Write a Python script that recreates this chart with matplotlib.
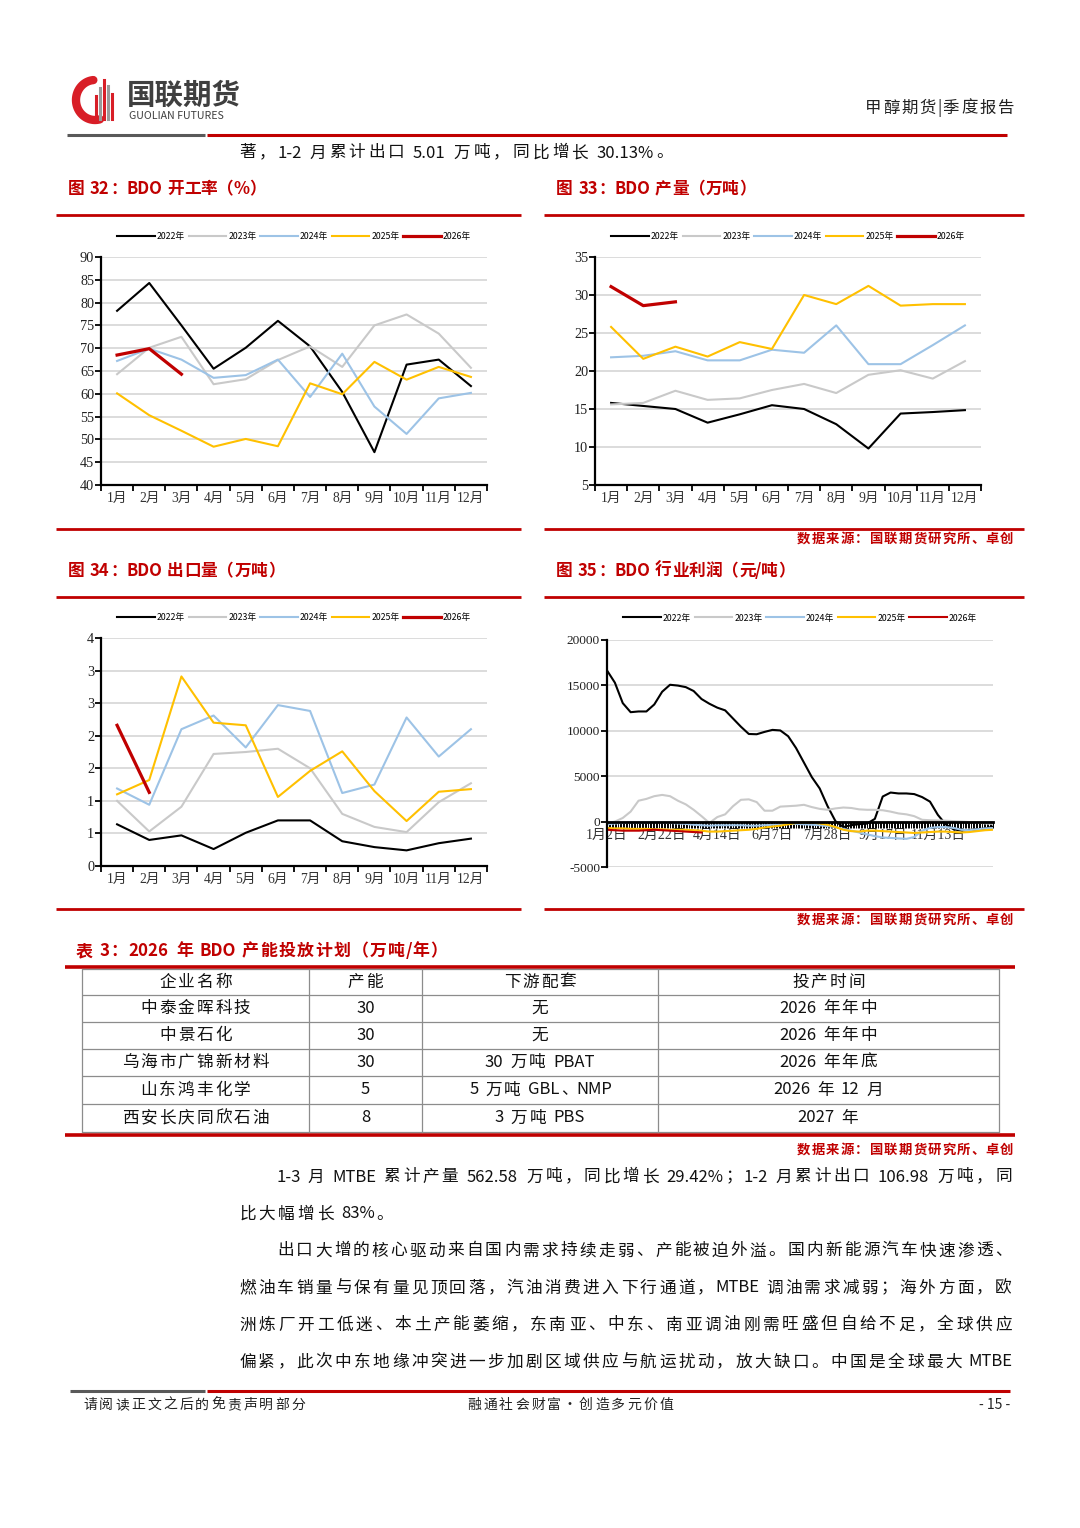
import matplotlib.pyplot as plt
import numpy as np

plt.rcParams['font.family'] = ['Noto Sans CJK SC', 'DejaVu Sans']

# ---- data ----
months = ['1月', '2月', '3月', '4月', '5月', '6月', '7月', '8月', '9月', '10月', '11月', '12月']
years = ['2022年', '2023年', '2024年', '2025年', '2026年']

# 图32 BDO 开工率 (%)
rate_2022 = [78.2, 84.3, 75.0, 65.5, 70.1, 76.0, 70.4, 60.4, 47.2, 66.4, 67.5, 61.7]
rate_2023 = [64.3, 70.1, 72.5, 62.1, 63.2, 67.4, 70.4, 65.9, 75.0, 77.4, 73.2, 65.7]
rate_2024 = [67.2, 69.9, 67.5, 63.5, 64.1, 67.5, 59.3, 68.8, 57.2, 51.2, 59.0, 60.2]
rate_2025 = [60.1, 55.3, 51.9, 48.4, 50.1, 48.5, 62.3, 59.9, 67.0, 63.1, 65.9, 63.7]
rate_2026 = [68.5, 69.9, 64.3]

# 图33 BDO 产量 (万吨)
prod_2022 = [15.8, 15.4, 15.0, 13.2, 14.3, 15.5, 15.0, 13.0, 9.8, 14.4, 14.6, 14.85]
prod_2023 = [15.6, 15.8, 17.4, 16.2, 16.4, 17.5, 18.3, 17.1, 19.5, 20.1, 19.0, 21.3]
prod_2024 = [21.8, 22.0, 22.6, 21.4, 21.4, 22.8, 22.4, 26.0, 20.9, 20.9, 23.4, 26.0]
prod_2025 = [25.8, 21.6, 23.2, 21.9, 23.8, 22.9, 30.0, 28.8, 31.2, 28.6, 28.8, 28.8]
prod_2026 = [31.1, 28.6, 29.1]

# 图34 BDO 出口量 (万吨)
exp_2022 = [0.64, 0.40, 0.47, 0.26, 0.51, 0.70, 0.70, 0.38, 0.29, 0.24, 0.35, 0.42]
exp_2023 = [1.00, 0.53, 0.91, 1.72, 1.75, 1.80, 1.50, 0.80, 0.60, 0.52, 0.98, 1.27]
exp_2024 = [1.19, 0.94, 2.10, 2.31, 1.82, 2.47, 2.38, 1.12, 1.25, 2.28, 1.68, 2.10]
exp_2025 = [1.10, 1.32, 2.91, 2.20, 2.16, 1.06, 1.46, 1.76, 1.15, 0.69, 1.14, 1.18]
exp_2026 = [2.16, 1.13]
exp_ticks = [0, 0.5, 1, 1.5, 2, 2.5, 3, 3.5]
exp_ticklabels = ['0', '1', '1', '2', '2', '3', '3', '4']

# 图35 BDO 行业利润 (元/吨), weekly readings (every 5 trading days)
profit_2022 = [16650, 15300, 13050, 12050, 12130, 12130, 12900, 14300, 15070, 14980,
               14810, 14380, 13500, 12980, 12550, 12250, 11350, 10450, 9650, 9620,
               9880, 10100, 10040, 9400, 8100, 6500, 4900, 3650, 1700, 50,
               -600, -400, -280, -220, 300, 2760, 3200, 3100, 3100, 3030,
               2700, 2200, 740, -300, -850, -990, -920, -850, -760, -550]
profit_2023 = [-200, 0, 400, 1100, 2300, 2500, 2800, 2940, 2800, 2300,
               1900, 1300, 600, -150, 500, 800, 1700, 2400, 2450, 2150,
               1200, 1200, 1650, 1700, 1750, 1850, 1600, 1400, 1300, 1450,
               1550, 1500, 1350, 1300, 1300, 1250, 1100, 900, 800, 600,
               200, 150, 120, 100, 50, 0, -50, -100, -200, -250]
profit_2024 = [-300, -200, -150, -100, -150, -100, -50, -100, -150, -200,
               -250, -350, -400, -450, -400, -400, -400, -400, -450, -450,
               -400, -350, -300, -250, -250, -300, -350, -400, -500, -600,
               -800, -1000, -1200, -1400, -1600, -1750, -1800, -1850, -1900, -1700,
               -1000, -700, -600, -600, -700, -900, -950, -850, -750, -700]
profit_2025 = [-700, -750, -750, -800, -800, -800, -850, -850, -900, -900,
               -900, -950, -1000, -1100, -1100, -1050, -1000, -950, -900, -800,
               -650, -550, -450, -300, -150, -100, -100, -200, -350, -600,
               -900, -1050, -1100, -1000, -1000, -1050, -1100, -1150, -1200, -1250,
               -1200, -1150, -1100, -1100, -1150, -1200, -1150, -1050, -950, -900]
profit_2026 = [-900, -950, -1000, -1000, -1000, -950, -900, -950, -1000, -1050,
               -1100, -1150, -1200]
profit_dates = ['1月2日', '2月22日', '4月14日', '6月7日', '7月28日', '9月17日', '11月13日']

# 表3
table_head = ['企业名称', '产能', '下游配套', '投产时间']
table_rows = [
    ['中泰金晖科技', '30', '无', '2026 年年中'],
    ['中景石化', '30', '无', '2026 年年中'],
    ['乌海市广锦新材料', '30', '30 万吨 PBAT', '2026 年年底'],
    ['山东鸿丰化学', '5', '5 万吨 GBL、NMP', '2026 年 12 月'],
    ['西安长庆同欣石油', '8', '3 万吨 PBS', '2027 年'],
]

colors = ['#000000', '#c9c9c9', '#9dc3e6', '#ffc000', '#c00000']
widths = [1.5, 1.5, 1.5, 1.5, 2.3]
RED = '#c00000'
INK = '#111111'
SERIF = ['Liberation Serif', 'Noto Sans CJK SC']

W, H = 1080, 1528
fig = plt.figure(figsize=(W / 100, H / 100), dpi=100)
bg = fig.add_axes([0, 0, 1, 1])
bg.set_xlim(0, W)
bg.set_ylim(H, 0)
bg.axis('off')


def box(x, y, w, h):
    return fig.add_axes([x / W, 1 - (y + h) / H, w / W, h / H])


def hline(x0, x1, y, color, lw):
    bg.plot([x0, x1], [y, y], color=color, lw=lw, solid_capstyle='butt')


def cw(c):
    if c.isdigit() or c.islower():
        return 0.5
    if c.isupper():
        return 0.58
    if c == '%':
        return 0.75
    if c in '.-/|:;,':
        return 0.27
    return 0.45


def tokens(s, aw=1.0):
    out = []
    i = 0
    while i < len(s):
        c = s[i]
        if c == ' ':
            out.append((' ', 0.3))
            i += 1
        elif ord(c) < 128:
            j = i
            while j < len(s) and ord(s[j]) < 128 and s[j] != ' ':
                j += 1
            out.append((s[i:j], aw * sum(cw(ch) for ch in s[i:j])))
            i = j
        else:
            out.append((c, 1.0))
            i += 1
    return out


def spread(s, x, y, unit=18.6, size=12, ha='left', x1=None, aw=1.0, **kw):
    toks = tokens(s, aw)
    total = sum(w for _, w in toks)
    if x1 is not None:
        unit = (x1 - x) / total
    if ha == 'center':
        x -= total * unit / 2
    elif ha == 'right':
        x -= total * unit
    kw.setdefault('color', INK)
    for t, w in toks:
        if t != ' ':
            bg.text(x + w * unit / 2, y, t, ha='center', va='center', fontsize=size, **kw)
        x += w * unit


def style(ax, ysize=10.3):
    for s in ['top', 'right']:
        ax.spines[s].set_visible(False)
    for s in ['left', 'bottom']:
        ax.spines[s].set_linewidth(1.6)
    ax.yaxis.grid(True, color='#d9d9d9', lw=1.3)
    ax.set_axisbelow(True)
    ax.set_facecolor('none')
    ax.tick_params(axis='y', length=4, width=1.3, labelsize=ysize, pad=1, labelfontfamily=SERIF,
                   labelcolor='#222222')


def legend(ax, off):
    ax.legend(loc='center', bbox_to_anchor=(0.5, 1 + off), ncol=5, frameon=False,
              fontsize=6.3, handlelength=4.3, handletextpad=0.2, columnspacing=0.45,
              borderaxespad=0)


def month_chart(rect, series, ylim, yticks, ylabels=None):
    ax = box(*rect)
    x = np.arange(12) + 0.5
    for vals, name, c, lw in zip(series, years, colors, widths):
        ax.plot(x[:len(vals)], vals, color=c, lw=lw, label=name)
    ax.set_xlim(0, 12)
    ax.set_ylim(*ylim)
    ax.set_yticks(yticks)
    if ylabels is not None:
        ax.set_yticklabels(ylabels)
    ax.set_xticks(np.arange(13))
    ax.set_xticklabels([])
    ax.set_xticks(x, minor=True)
    ax.set_xticklabels(months, minor=True)
    ax.tick_params(axis='x', which='major', length=4, width=1.3)
    ax.tick_params(axis='x', which='minor', length=0, pad=5, labelsize=9.8,
                   labelfontfamily=SERIF, labelcolor='#333333')
    style(ax)
    legend(ax, 20 / rect[3])
    return ax


# ---- header ----
t = np.linspace(np.radians(95), np.radians(285), 60)
bg.plot(95 + 19 * np.cos(t), 100 - 20 * np.sin(t), color='#d81e27', lw=6, solid_capstyle='round')
for xi, top, c in zip([96, 100, 104, 108, 112], [96, 88, 80, 86, 94],
                      ['#d81e27', '#9a9a9a', '#d81e27', '#9a9a9a', '#d81e27']):
    bg.plot([xi, xi], [top, 119], color=c, lw=2.2)
bg.text(127, 96, '国联期货', fontsize=20.5, fontweight='bold', color='#3f3f3f', va='center')
bg.text(129, 116, 'GUOLIAN FUTURES', fontsize=7.6, color='#3f3f3f', va='center')
spread('甲醇期货|季度报告', 1015, 108, unit=18.3, size=11.8, ha='right', color='#222222')
hline(67, 205, 135, '#595959', 2.2)
hline(207, 1007, 135, RED, 2.2)

spread('著，1-2 月累计出口 5.01 万吨，同比增长 30.13%。', 238, 153, unit=19.6, size=12)

# ---- figure titles / rules ----
for x, y, s in [(68, 189, '图 32：BDO 开工率（%）'), (556, 189, '图 33：BDO 产量（万吨）'),
                (68, 571, '图 34：BDO 出口量（万吨）'), (556, 571, '图 35：BDO 行业利润（元/吨）')]:
    spread(s, x, y, unit=16.8, size=12, aw=1.2, fontweight='bold', color=RED)
for y in [215, 529, 597, 909]:
    hline(56, 521, y, RED, 2)
    hline(544, 1024, y, RED, 2)
for y in [539, 920, 1150]:
    spread('数据来源：国联期货研究所、卓创', 1014, y, unit=14.5, size=9.6, ha='right',
           fontweight='bold', color=RED)

# ---- charts ----
month_chart((101, 257, 386, 228), [rate_2022, rate_2023, rate_2024, rate_2025, rate_2026],
            (40, 90), np.arange(40, 91, 5))
month_chart((595, 257, 386, 228), [prod_2022, prod_2023, prod_2024, prod_2025, prod_2026],
            (5, 35), np.arange(5, 36, 5))
month_chart((101, 638, 386, 228), [exp_2022, exp_2023, exp_2024, exp_2025, exp_2026],
            (0, 3.5), exp_ticks, exp_ticklabels)

ax = box(607, 640, 386, 227)
n = 246
for vals, name, c, lw in zip([profit_2022, profit_2023, profit_2024, profit_2025, profit_2026],
                             years, colors, widths):
    ax.plot(np.arange(len(vals)) * 5, vals, color=c, lw=1.5, label=name)
ax.set_xlim(0, n - 1)
ax.set_ylim(-5000, 20000)
ax.set_yticks(np.arange(-5000, 20001, 5000))
ax.set_yticklabels(['-5000', '0', '5000', '10000', '15000', '20000'])
ax.spines['bottom'].set_position(('data', 0))
ax.set_xticks(np.arange(len(profit_dates)) * 35)
ax.set_xticklabels(profit_dates)
ax.set_xticks(np.arange(n), minor=True)
ax.tick_params(axis='x', which='both', length=4, width=0.7, direction='out')
ax.tick_params(axis='x', which='major', pad=1, labelsize=10, labelfontfamily=SERIF,
               labelcolor='#333333')
style(ax, ysize=9.6)
ax.spines['bottom'].set_linewidth(2)
legend(ax, 22 / 227)

# ---- table ----
spread('表 3：2026 年 BDO 产能投放计划（万吨/年）', 75, 951, unit=18.3, size=12.2, aw=1.15,
       fontweight='bold', color=RED)
hline(65, 1015, 967, RED, 2.6)
hline(65, 1015, 1135, RED, 2.6)
row_y = [969, 995, 1022, 1049, 1076, 1104, 1132]
col_x = [82, 309, 422, 658, 999]
for y in row_y:
    hline(82, 999, y, '#8c8c8c', 0.9)
for x in col_x:
    bg.plot([x, x], [row_y[0], row_y[-1]], color='#8c8c8c', lw=0.9)
for r, cells in enumerate([table_head] + table_rows):
    yc = (row_y[r] + row_y[r + 1]) / 2
    for c, s in enumerate(cells):
        xc = (col_x[c] + col_x[c + 1]) / 2
        spread(s, xc, yc, unit=18.7, size=12, ha='center')

# ---- body text ----
spread('1-3 月 MTBE 累计产量 562.58 万吨，同比增长 29.42%；1-2 月累计出口 106.98 万吨，同', 276, 1177, x1=1013)
spread('比大幅增长 83%。', 238, 1214, unit=19.4)
spread('出口大增的核心驱动来自国内需求持续走弱、产能被迫外溢。国内新能源汽车快速渗透、', 276, 1251, x1=1013)
spread('燃油车销量与保有量见顶回落，汽油消费进入下行通道，MTBE 调油需求减弱；海外方面，欧', 238, 1288, x1=1013)
spread('洲炼厂开工低迷、本土产能萎缩，东南亚、中东、南亚调油刚需旺盛但自给不足，全球供应', 238, 1325, x1=1013)
spread('偏紧，此次中东地缘冲突进一步加剧区域供应与航运扰动，放大缺口。中国是全球最大 MTBE', 238, 1362, x1=1013)

# ---- footer ----
hline(70, 205, 1391, '#595959', 2.2)
hline(207, 1010, 1391, RED, 2.2)
spread('请阅读正文之后的免责声明部分', 82, 1405, unit=16, size=10, color='#222222')
spread('融通社会财富·创造多元价值', 570, 1405, unit=16, size=10, ha='center', color='#222222')
bg.text(1010, 1405, '- 15 -', fontsize=10, va='center', ha='right', color='#222222')

fig.savefig('out.png', dpi=100, facecolor='white')
